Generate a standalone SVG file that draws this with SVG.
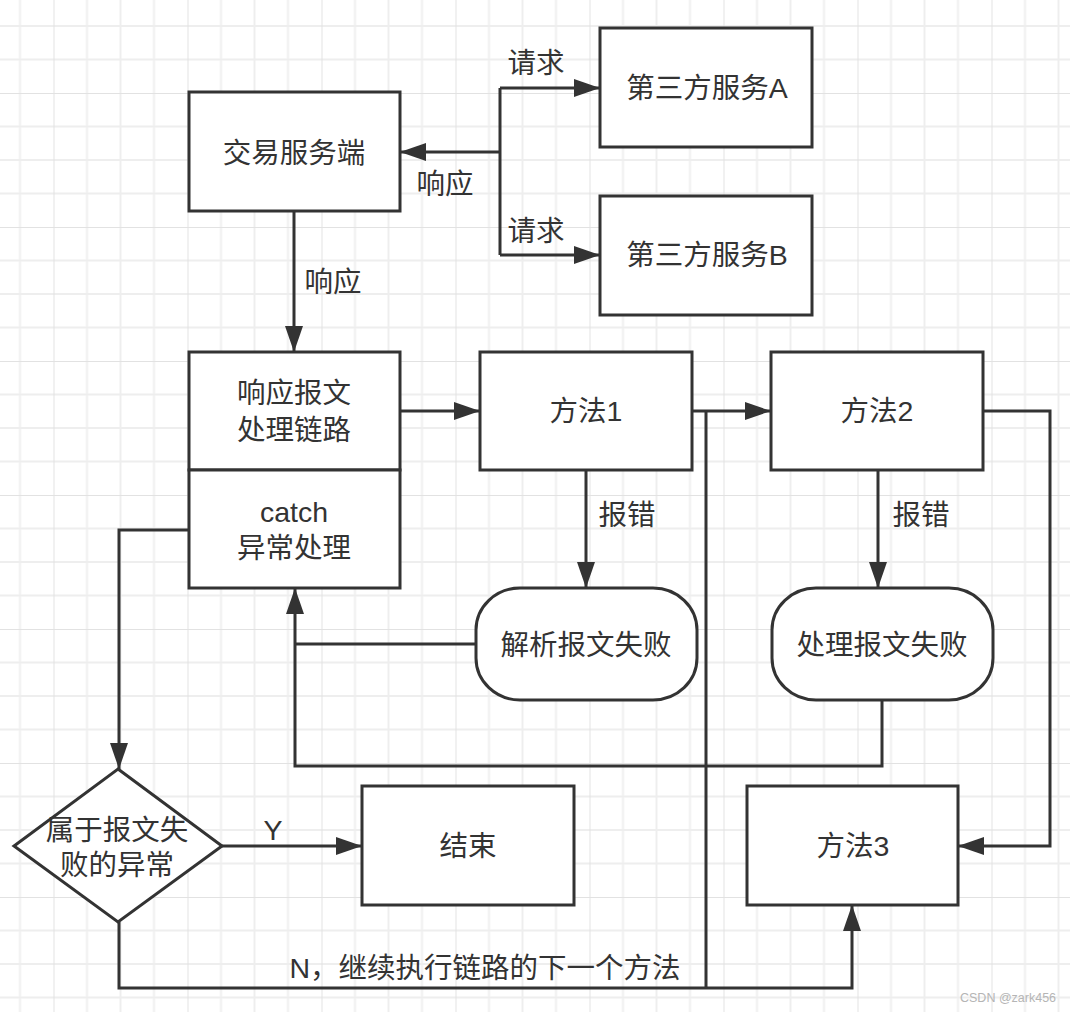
<svg xmlns="http://www.w3.org/2000/svg" width="1070" height="1012" viewBox="0 0 1070 1012">
<style>
.node{fill:#fff;stroke:#333;stroke-width:3;}
.t{font-family:"Liberation Sans","Noto Sans CJK SC",sans-serif;font-size:28.5px;fill:#333;text-anchor:middle;}
.edge{fill:none;stroke:#333;stroke-width:3;}
.wm{font-family:"Liberation Sans","Noto Sans CJK SC",sans-serif;font-size:12.5px;fill:#b5b5b5;}
</style>
<defs>
<pattern id="grid" x="-80.5" y="-41" width="134" height="134" patternUnits="userSpaceOnUse">
<g stroke="#eeeeee" stroke-width="2">
<line x1="33.5" y1="0" x2="33.5" y2="134"/>
<line x1="67" y1="0" x2="67" y2="134"/>
<line x1="100.5" y1="0" x2="100.5" y2="134"/>
<line x1="0" y1="33.5" x2="134" y2="33.5"/>
<line x1="0" y1="67" x2="134" y2="67"/>
<line x1="0" y1="100.5" x2="134" y2="100.5"/>
</g>
<g stroke="#e2e2e2" stroke-width="2">
<line x1="0" y1="0" x2="0" y2="134"/>
<line x1="0" y1="0" x2="134" y2="0"/>
</g>
</pattern>
<marker id="arr" markerUnits="userSpaceOnUse" markerWidth="26" markerHeight="18" refX="26" refY="9" orient="auto">
<path d="M0,0 L26,9 L0,18 z" fill="#333"/>
</marker>
</defs>
<rect width="1070" height="1012" fill="#fff"/>
<rect width="1070" height="1012" fill="url(#grid)"/>

<g id="connectors">
<path class="edge" d="M500,152 L400,152" marker-end="url(#arr)"/>
<path class="edge" d="M500,88 L500,255"/>
<path class="edge" d="M500,88 L600,88" marker-end="url(#arr)"/>
<path class="edge" d="M500,255 L600,255" marker-end="url(#arr)"/>
<path class="edge" d="M294,211 L294,352" marker-end="url(#arr)"/>
<path class="edge" d="M400,411 L480,411" marker-end="url(#arr)"/>
<path class="edge" d="M692,411 L771,411" marker-end="url(#arr)"/>
<path class="edge" d="M586,470 L586,588" marker-end="url(#arr)"/>
<path class="edge" d="M878,470 L878,588" marker-end="url(#arr)"/>
<path class="edge" d="M476,644 L295,644"/>
<path class="edge" d="M882,700 L882,766 L295,766 L295,588" marker-end="url(#arr)"/>
<path class="edge" d="M983,411 L1050,411 L1050,846 L958,846" marker-end="url(#arr)"/>
<path class="edge" d="M189,530 L119,530 L119,769" marker-end="url(#arr)"/>
<path class="edge" d="M222,846 L362,846" marker-end="url(#arr)"/>
<path class="edge" d="M119,922 L119,988 L852,988 L852,905" marker-end="url(#arr)"/>
<path class="edge" d="M706,411 L706,988"/>
<text class="t" x="536" y="73">请求</text>
<text class="t" x="536" y="241">请求</text>
<text class="t" x="445" y="194">响应</text>
<text class="t" x="333" y="292">响应</text>
<text class="t" x="627" y="525">报错</text>
<text class="t" x="921" y="525">报错</text>
<text class="t" x="273" y="840">Y</text>
<text class="t" x="485" y="978">N，继续执行链路的下一个方法</text>
</g>

<g id="jiaoyi">
<rect class="node" x="189" y="92" width="211" height="119"/>
<text class="t" x="294" y="163">交易服务端</text>
</g>
<g id="serviceA">
<rect class="node" x="600" y="28" width="212" height="119"/>
<text class="t" x="707" y="98">第三方服务A</text>
</g>
<g id="serviceB">
<rect class="node" x="600" y="196" width="212" height="119"/>
<text class="t" x="707" y="265">第三方服务B</text>
</g>
<g id="chain">
<rect class="node" x="189" y="352" width="211" height="118"/>
<text class="t" x="294" y="403">响应报文</text>
<text class="t" x="294" y="440">处理链路</text>
</g>
<g id="catch">
<rect class="node" x="189" y="470" width="211" height="118"/>
<text class="t" x="294" y="522">catch</text>
<text class="t" x="294" y="558">异常处理</text>
</g>
<g id="method1">
<rect class="node" x="480" y="352" width="212" height="118"/>
<text class="t" x="586" y="421">方法1</text>
</g>
<g id="method2">
<rect class="node" x="771" y="352" width="212" height="118"/>
<text class="t" x="877" y="421">方法2</text>
</g>
<g id="parseFail">
<rect class="node" x="476" y="588" width="221" height="112" rx="44" ry="42"/>
<text class="t" x="586" y="655">解析报文失败</text>
</g>
<g id="handleFail">
<rect class="node" x="772" y="588" width="221" height="112" rx="44" ry="42"/>
<text class="t" x="882" y="655">处理报文失败</text>
</g>
<g id="decision">
<polygon class="node" points="118,769 222,846 118,922 14,846"/>
<text class="t" x="117" y="840">属于报文失</text>
<text class="t" x="117" y="875">败的异常</text>
</g>
<g id="end">
<rect class="node" x="362" y="786" width="212" height="119"/>
<text class="t" x="468" y="856">结束</text>
</g>
<g id="method3">
<rect class="node" x="747" y="786" width="211" height="119"/>
<text class="t" x="853" y="856">方法3</text>
</g>
<text class="wm" x="960" y="1002">CSDN @zark456</text>
</svg>
